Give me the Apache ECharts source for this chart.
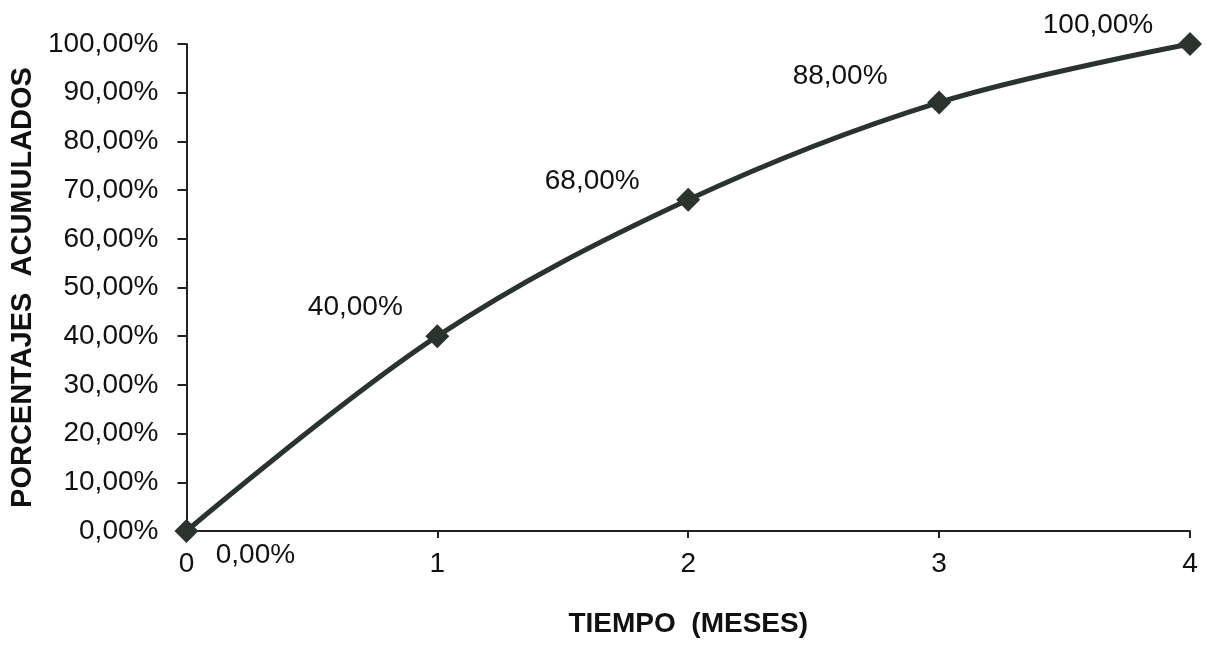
<!DOCTYPE html>
<html><head><meta charset="utf-8">
<script src="https://cdn.jsdelivr.net/npm/echarts@6/dist/echarts.min.js"></script>
<style>html,body{margin:0;padding:0;background:#fff}#c{width:1207px;height:645px}</style>
</head><body><div id="c"></div>
<script>
const months = [0, 1, 2, 3, 4];
const cumulativePct = [0, 40, 68, 88, 100];
const pointLabels = ['0,00%', '40,00%', '68,00%', '88,00%', '100,00%'];
const xTitle = 'TIEMPO  (MESES)';
const yTitle = 'PORCENTAJES  ACUMULADOS';

const labelOffsets = [[69, 24], [-82, -29], [-96, -19], [-99, -26], [-92, -19]];
const fmt = v => v.toFixed(2).replace('.', ',') + '%';
const FONT = 'Liberation Sans';

const chart = echarts.init(document.getElementById('c'));
chart.setOption({
  animation: false,
  grid: {left: 186, right: 17, top: 44, bottom: 114},
  xAxis: {
    type: 'value', min: 0, max: 4, interval: 1,
    name: xTitle, nameLocation: 'middle', nameGap: 79,
    nameTextStyle: {fontFamily: FONT, fontWeight: 'bold', fontSize: 28, color: '#111'},
    axisLine: {lineStyle: {color: '#222', width: 2}},
    axisTick: {show: true, length: 7, lineStyle: {color: '#222', width: 2}},
    axisLabel: {fontFamily: FONT, fontSize: 28, color: '#111', margin: 19},
    splitLine: {show: false}
  },
  yAxis: {
    type: 'value', min: 0, max: 100, interval: 10,
    name: yTitle, nameLocation: 'middle', nameGap: 147, nameRotate: 90,
    nameTextStyle: {fontFamily: FONT, fontWeight: 'bold', fontSize: 29, color: '#111'},
    axisLine: {show: true, lineStyle: {color: '#222', width: 2}},
    axisTick: {show: true, length: 9, lineStyle: {color: '#222', width: 2}},
    axisLabel: {fontFamily: FONT, fontSize: 28, color: '#111', margin: 28, formatter: fmt},
    splitLine: {show: false}
  },
  series: [{
    type: 'line',
    smooth: 0.35,
    data: months.map((m, i) => ({
      value: [m, cumulativePct[i]],
      label: {show: true, position: 'inside', offset: labelOffsets[i], formatter: pointLabels[i],
        fontFamily: FONT, fontSize: 28, color: '#111'}
    })),
    symbol: 'diamond', symbolSize: 24,
    itemStyle: {color: '#2b332f'},
    lineStyle: {color: '#2b332f', width: 5},
    z: 5
  }]
});
</script></body></html>
